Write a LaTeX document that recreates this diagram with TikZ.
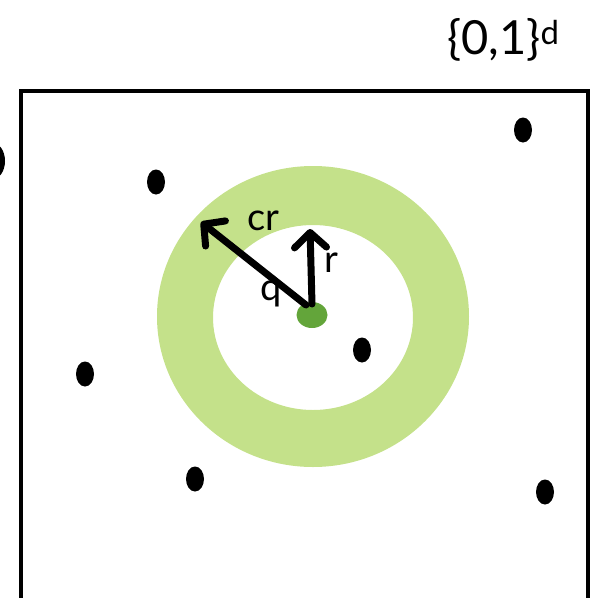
\documentclass[tikz,border=0pt]{standalone}
\usepackage{fontspec}
\setmainfont{Lato}
\usetikzlibrary{arrows.meta,shapes.geometric}
\definecolor{ringgreen}{HTML}{C4E18A}
\definecolor{dotgreen}{HTML}{63A53A}
\tikzset{
  pt/.style={ellipse,fill=black,inner sep=0pt,minimum width=18pt,minimum height=25pt},
  arr/.style={line width=7pt,line cap=round,-{Straight Barb[length=15pt,width=32pt,line width=7pt,round]}},
  lbl/.style={font=\fontsize{38}{42}\selectfont,inner sep=0pt}
}
\begin{document}
\begin{tikzpicture}[x=1pt,y=-1pt]
\useasboundingbox (0,0) rectangle (598,598);
% annulus
\fill[ringgreen,even odd rule] (313,316.5) ellipse [x radius=156,y radius=150.5]
  (313,317.5) ellipse [x radius=100,y radius=92.5];
% box
\draw[line width=4pt] (21,600) -- (21,91) -- (588,91) -- (588,600);
% points
\node[pt] (p1) at (156,182) {};
\node[pt] (p2) at (523,130) {};
\node[pt] (p3) at (362,350) {};
\node[pt] (p4) at (85,374) {};
\node[pt] (p5) at (195,479) {};
\node[pt] (p6) at (545,492) {};
\node[ellipse,fill=black,inner sep=0pt,minimum width=26pt,minimum height=37pt] (p0) at (-8,161) {};
% query
\node[ellipse,fill=dotgreen,inner sep=0pt,minimum width=31pt,minimum height=26pt] (q0) at (312,315) {};
\coordinate (tcr) at (201,222);
\coordinate (tr) at (310,229);
\draw[arr] (306,305) -- (tcr);
\draw[arr] (312,304) -- (tr);
% labels
\node[lbl] (lcr) at (263,221) {cr};
\node[lbl] (lr) at (331,263) {r};
\node[lbl] (lq) at (271,294) {q};
\node[font=\fontsize{47}{50}\selectfont,inner sep=0pt,anchor=base west] (cube) at (447,54) {\{0,1\}$^{\mathrm{d}}$};
\end{tikzpicture}
\end{document}
